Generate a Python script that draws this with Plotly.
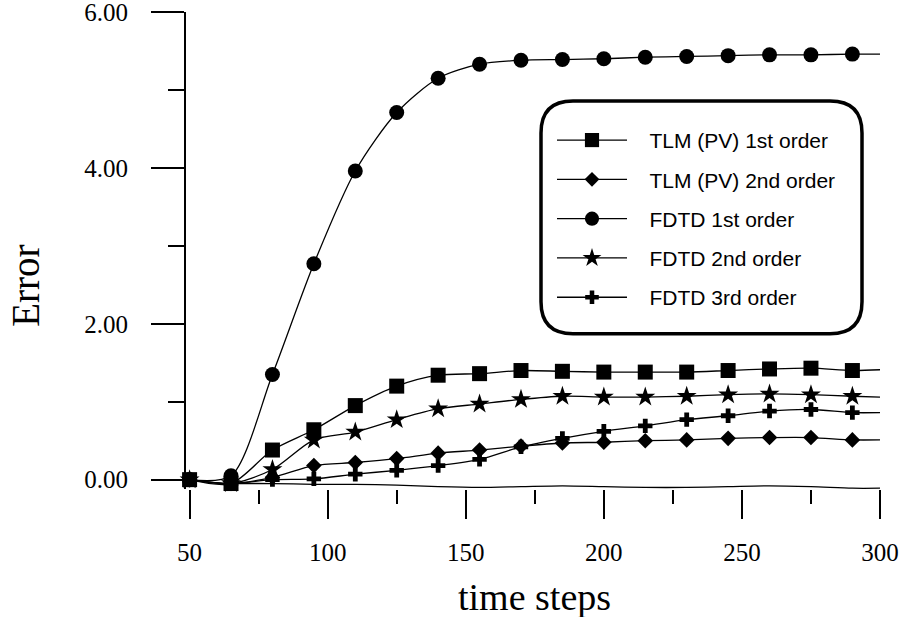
import plotly.graph_objects as go

# ---- data ----
steps = [50, 65, 80, 95, 110, 125, 140, 155, 170, 185, 200, 215, 230, 245, 260, 275, 290, 300]
tlm_1st = [0.00, -0.05, 0.38, 0.64, 0.95, 1.20, 1.34, 1.36, 1.40, 1.39, 1.38, 1.38, 1.38, 1.40, 1.42, 1.43, 1.40, 1.41]
tlm_2nd = [0.00, -0.05, 0.03, 0.18, 0.22, 0.27, 0.34, 0.38, 0.43, 0.47, 0.48, 0.50, 0.51, 0.53, 0.54, 0.54, 0.51, 0.51]
fdtd_1st = [0.00, 0.05, 1.35, 2.77, 3.96, 4.71, 5.15, 5.33, 5.38, 5.39, 5.40, 5.42, 5.43, 5.44, 5.45, 5.45, 5.46, 5.46]
fdtd_2nd = [0.00, -0.05, 0.13, 0.51, 0.61, 0.77, 0.91, 0.97, 1.03, 1.07, 1.06, 1.06, 1.07, 1.09, 1.10, 1.09, 1.07, 1.06]
fdtd_3rd = [0.00, -0.05, 0.00, 0.01, 0.07, 0.12, 0.18, 0.26, 0.42, 0.53, 0.62, 0.69, 0.77, 0.82, 0.88, 0.90, 0.86, 0.86]
base_steps = steps[1:]
base_line = [-0.05, -0.05, -0.06, -0.06, -0.07, -0.09, -0.10, -0.09, -0.08, -0.09, -0.10, -0.10, -0.09, -0.08, -0.09, -0.11, -0.11]

x_ticks = [50, 100, 150, 200, 250, 300]
x_minor = [75, 125, 175, 225, 275]
y_ticks = [0, 2, 4, 6]
y_minor = [1, 3, 5]

series = [
    # name, values, symbol, size, legend rank
    ("FDTD 3rd order", fdtd_3rd, "cross", 12, 5),
    ("TLM (PV) 2nd order", tlm_2nd, "diamond", 12, 2),
    ("FDTD 2nd order", fdtd_2nd, "star", 15, 4),
    ("FDTD 1st order", fdtd_1st, "circle", 15, 3),
    ("TLM (PV) 1st order", tlm_1st, "square", 15, 1),
]

fig = go.Figure()

fig.add_trace(go.Scatter(
    x=base_steps, y=base_line, mode="lines", showlegend=False,
    line=dict(color="black", width=1.3, shape="spline", smoothing=0.8),
    hoverinfo="skip",
))

NB = "\u00a0\u00a0\u00a0"
for name, vals, sym, size, rank in series:
    sizes = [size] * (len(steps) - 1) + [0]
    fig.add_trace(go.Scatter(
        x=steps, y=vals, name=NB + name, mode="lines+markers",
        legendgroup=name, legendrank=rank,
        line=dict(color="black", width=1.3, shape="spline", smoothing=0.8),
        marker=dict(symbol=sym, size=sizes, color="black", opacity=1,
                    line=dict(width=0, color="black")),
        cliponaxis=False,
    ))

L, R, T = 186, 20, 12
plot_w = 900 - L - R
y_top, y_bot = 12, 489.4
plot_h = y_bot - y_top
B = 617 - y_bot

def px(xp):
    return (xp - L) / plot_w

def py(yp):
    return (y_bot - yp) / plot_h

# rounded legend box
bx0, bx1, by0, by1 = px(541), px(862), py(334), py(101)
rx, ry = 32 / plot_w, 32 / plot_h
path = (f"M{bx0+rx},{by1} L{bx1-rx},{by1} Q{bx1},{by1} {bx1},{by1-ry} "
        f"L{bx1},{by0+ry} Q{bx1},{by0} {bx1-rx},{by0} L{bx0+rx},{by0} "
        f"Q{bx0},{by0} {bx0},{by0+ry} L{bx0},{by1-ry} Q{bx0},{by1} {bx0+rx},{by1} Z")

serif = "Liberation Serif"

fig.update_layout(
    width=900, height=617,
    margin=dict(l=L, r=R, t=T, b=B, autoexpand=False),
    paper_bgcolor="white", plot_bgcolor="white",
    showlegend=True,
    legend=dict(
        x=px(552), y=py(120), xanchor="left", yanchor="top",
        bgcolor="rgba(0,0,0,0)", borderwidth=0,
        font=dict(family="Liberation Sans", size=21, color="black"),
        itemwidth=70, tracegroupgap=9, traceorder="grouped",
    ),
    shapes=[dict(type="path", xref="paper", yref="paper", path=path,
                 line=dict(color="black", width=3.5), fillcolor="rgba(0,0,0,0)",
                 layer="above")],
    annotations=[
        dict(text="time steps", xref="paper", yref="paper", x=px(534), y=py(597),
             xanchor="center", yanchor="middle", showarrow=False,
             font=dict(family=serif, size=38, color="black")),
        dict(text="Error", xref="paper", yref="paper", x=px(26), y=py(286),
             xanchor="center", yanchor="middle", showarrow=False, textangle=-90,
             font=dict(family=serif, size=39, color="black")),
    ],
    xaxis=dict(
        range=[48.7, 300], showline=False, showgrid=False, zeroline=False,
        automargin=False,
        tickmode="array", tickvals=x_ticks, ticks="outside", ticklen=29,
        tickwidth=1.5, tickcolor="black",
        minor=dict(tickvals=x_minor, ticks="outside", ticklen=14, tickwidth=1.5,
                   tickcolor="black", showgrid=False),
        tickfont=dict(family=serif, size=25, color="black"),
        ticklabelstandoff=12, ticklabeloverflow="allow",
    ),
    yaxis=dict(
        range=[-0.12, 6], showline=True, linecolor="black", linewidth=1.8,
        showgrid=False, zeroline=False, automargin=False,
        tickmode="array", tickvals=y_ticks, tickformat=".2f",
        ticks="outside", ticklen=33, tickwidth=1.5, tickcolor="black",
        minor=dict(tickvals=y_minor, ticks="outside", ticklen=16, tickwidth=1.5,
                   tickcolor="black", showgrid=False),
        tickfont=dict(family=serif, size=25, color="black"),
        ticklabelstandoff=18, ticklabeloverflow="allow",
    ),
)

fig.write_html("out.html")
